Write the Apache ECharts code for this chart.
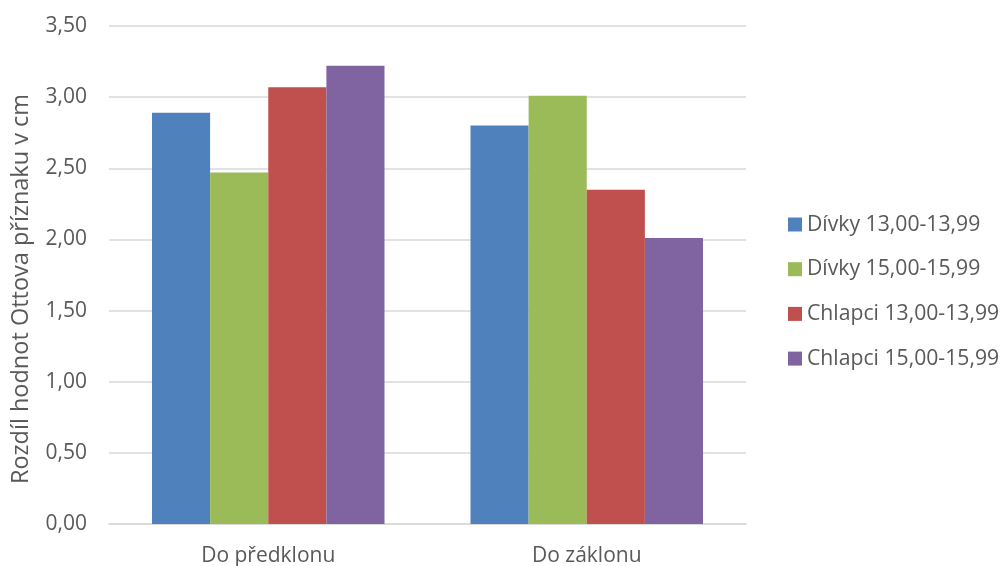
<!DOCTYPE html>
<html>
<head>
<meta charset="utf-8">
<script src="https://cdn.jsdelivr.net/npm/echarts@6/dist/echarts.min.js"></script>
<style>
  html, body { margin: 0; padding: 0; background: #fff; }
  #chart { width: 1002px; height: 566px; }
</style>
</head>
<body>
<div id="chart"></div>
<script>
// Categories on the x axis
const categories = ['Do předklonu', 'Do záklonu'];

// Series names and values (cm)
const seriesNames = ['Dívky 13,00-13,99', 'Dívky 15,00-15,99', 'Chlapci 13,00-13,99', 'Chlapci 15,00-15,99'];
const divky13 = [2.89, 2.80];
const divky15 = [2.47, 3.01];
const chlapci13 = [3.07, 2.35];
const chlapci15 = [3.22, 2.01];

// Y axis scale
const yMin = 0;
const yMax = 3.5;
const yStep = 0.5;

const colors = ['#4F81BD', '#9BBB59', '#C0504D', '#8064A2'];
const values = [divky13, divky15, chlapci13, chlapci15];
const fontFamily = '"Open Sans", "DejaVu Sans", sans-serif';
const textColor = '#595959';
const fontSize = 21;

const chart = echarts.init(document.getElementById('chart'), null, { renderer: 'canvas' });

chart.setOption({
  animation: false,
  backgroundColor: '#ffffff',
  color: colors,
  textStyle: { fontFamily: fontFamily, color: textColor },
  grid: { left: 109, right: 256, top: 26, bottom: 42, containLabel: false, outerBoundsMode: 'none' },
  legend: {
    orient: 'vertical',
    left: 788,
    top: 214,
    padding: 0,
    itemWidth: 14,
    itemHeight: 14,
    itemGap: 23.7,
    icon: 'rect',
    data: seriesNames,
    textStyle: { fontFamily: fontFamily, fontSize: 21.2, color: textColor, lineHeight: 21, padding: [0, 0, 0, 0] }
  },
  xAxis: {
    type: 'category',
    data: categories,
    axisTick: { show: false },
    axisLine: { show: true, lineStyle: { color: '#d9d9d9', width: 1.5 } },
    axisLabel: { fontFamily: fontFamily, fontSize: fontSize, color: textColor, margin: 22 }
  },
  yAxis: {
    type: 'value',
    min: yMin,
    max: yMax,
    interval: yStep,
    name: 'Rozdíl hodnot Ottova příznaku v cm',
    nameLocation: 'middle',
    nameGap: 76,
    nameTextStyle: { fontFamily: fontFamily, fontSize: 23.5, color: textColor, padding: [0, 28, 0, 0] },
    axisLine: { show: false },
    axisTick: { show: false },
    splitLine: { lineStyle: { color: '#d9d9d9', width: 1.5 } },
    axisLabel: {
      fontFamily: fontFamily,
      fontSize: fontSize,
      color: textColor,
      margin: 22,
      formatter: v => v.toFixed(2).replace('.', ',')
    }
  },
  series: seriesNames.map((name, i) => ({
    name: name,
    type: 'bar',
    data: values[i],
    barGap: '0%',
    barCategoryGap: '27%',
    itemStyle: { color: colors[i] }
  }))
});
</script>
</body>
</html>
